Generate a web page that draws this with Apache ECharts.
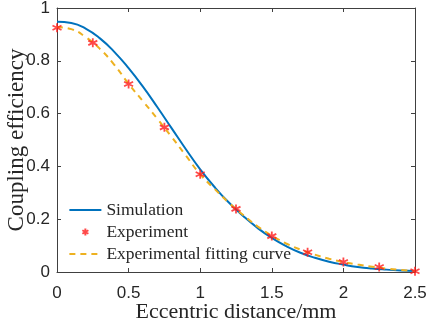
<!DOCTYPE html>
<html>
<head>
<meta charset="utf-8">
<script src="https://cdn.jsdelivr.net/npm/echarts@6/dist/echarts.min.js"></script>
<style>
html, body { margin: 0; padding: 0; background: #fff; }
#box { width: 429px; height: 326px; }
</style>
</head>
<body>
<div id="box"></div>
<script>
// values
var simX = [0, 0.1, 0.2, 0.3, 0.4, 0.5, 0.6, 0.7, 0.8, 0.9, 1.0, 1.1, 1.2, 1.3, 1.4, 1.5, 1.6, 1.7, 1.8, 1.9, 2.0, 2.1, 2.2, 2.3, 2.4, 2.5];
var simY = [0.948, 0.943, 0.922, 0.885, 0.834, 0.772, 0.702, 0.625, 0.545, 0.465, 0.389, 0.322, 0.263, 0.212, 0.167, 0.129, 0.098, 0.073, 0.054, 0.039, 0.028, 0.019, 0.013, 0.009, 0.006, 0.004];

var expX = [0, 0.25, 0.5, 0.75, 1.0, 1.25, 1.5, 1.75, 2.0, 2.25, 2.5];
var expY = [0.925, 0.868, 0.712, 0.548, 0.37, 0.239, 0.136, 0.075, 0.038, 0.019, 0.003];

var fitX = simX;
var fitY = [0.928, 0.92, 0.89, 0.845, 0.785, 0.713, 0.647, 0.581, 0.512, 0.441, 0.37, 0.315, 0.262, 0.216, 0.173, 0.138, 0.108, 0.085, 0.066, 0.05, 0.038, 0.028, 0.02, 0.013, 0.008, 0.004];

var xTicks = ['0', '0.5', '1', '1.5', '2', '2.5'];
var yTicks = ['0', '0.2', '0.4', '0.6', '0.8', '1'];
var names = ['Simulation', 'Experiment', 'Experimental fitting curve'];

function pairs(xs, ys) {
    return xs.map(function (x, i) { return [x, ys[i]]; });
}

var axisColor = '#404040';
var star = 'path://M0,-5L0,5M-4.33,-2.5L4.33,2.5M-4.33,2.5L4.33,-2.5';
// same asterisk, with a wider box so it stays small inside the legend slot
var legendStar = 'path://M-17,-8M17,8M0,-4L0,4M-3.46,-2L3.46,2M-3.46,2L3.46,-2';

var myChart = echarts.init(document.getElementById('box'));

function baseX(pos, show) {
    return {
        type: 'value', position: pos, min: 0, max: 2.5, interval: 0.5,
        axisLine: { show: true, onZero: false, lineStyle: { color: axisColor, width: 1 } },
        axisTick: { show: true, inside: true, length: 4, lineStyle: { color: axisColor } },
        axisLabel: {
            show: show, margin: 13, fontFamily: 'Liberation Sans', fontSize: 17, color: '#262626',
            formatter: function (v) { return xTicks[Math.round(v / 0.5)]; }
        },
        splitLine: { show: false }
    };
}
function baseY(pos, show) {
    return {
        type: 'value', position: pos, min: 0, max: 1, interval: 0.2,
        axisLine: { show: true, onZero: false, lineStyle: { color: axisColor, width: 1 } },
        axisTick: { show: true, inside: true, length: 4, lineStyle: { color: axisColor } },
        axisLabel: {
            show: show, margin: 7, fontFamily: 'Liberation Sans', fontSize: 17, color: '#262626',
            formatter: function (v) { return yTicks[Math.round(v / 0.2)]; }
        },
        splitLine: { show: false }
    };
}

var xa = baseX('bottom', true);
xa.name = 'Eccentric distance/mm';
xa.nameLocation = 'middle';
xa.nameGap = 29;
xa.nameMoveOverlap = false;
xa.nameTextStyle = { fontFamily: 'Liberation Serif', fontSize: 22, color: '#262626' };
var xb = baseX('top', false);

var ya = baseY('left', true);
ya.name = 'Coupling efficiency';
ya.nameLocation = 'middle';
ya.nameGap = 29;
ya.nameMoveOverlap = false;
ya.nameTextStyle = { fontFamily: 'Liberation Serif', fontSize: 23, color: '#262626' };
var yb = baseY('right', false);

var option = {
    animation: false,
    grid: { left: 57, right: 14, top: 8, bottom: 54, outerBoundsMode: 'none' },
    xAxis: [xa, xb],
    yAxis: [ya, yb],
    legend: {
        orient: 'vertical', left: 63, top: 195,
        itemWidth: 32, itemHeight: 14, itemGap: 2,
        textStyle: { fontFamily: 'Liberation Serif', fontSize: 17.5, lineHeight: 20, color: '#262626' },
        data: [
            { name: names[0], itemStyle: { opacity: 0 } },
            { name: names[1], icon: legendStar },
            { name: names[2], itemStyle: { opacity: 0 } }
        ]
    },
    series: [{
        name: names[0], type: 'line', smooth: true, showSymbol: false, symbol: 'none',
        data: pairs(simX, simY), z: 2,
        lineStyle: { color: '#0072BD', width: 2 }, itemStyle: { color: '#0072BD' }
    }, {
        name: names[2], type: 'line', smooth: true, showSymbol: false, symbol: 'none',
        data: pairs(fitX, fitY), z: 3,
        lineStyle: { color: '#EDB120', width: 2, type: [6, 5] }, itemStyle: { color: '#EDB120' }
    }, {
        name: names[1], type: 'scatter', symbol: star, symbolSize: 9,
        data: pairs(expX, expY), z: 4,
        itemStyle: { color: 'none', borderColor: '#FF1A1A', borderWidth: 1.8 }
    }]
};
myChart.setOption(option);
</script>
</body>
</html>
